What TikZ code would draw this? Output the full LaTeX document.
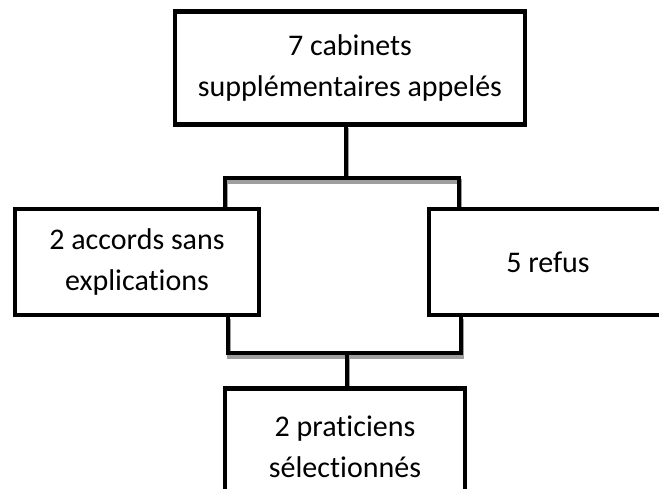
\documentclass[tikz,border=0pt]{standalone}
\usepackage{fontspec}
\setmainfont{Carlito}[Ligatures=NoCommon]
\usetikzlibrary{backgrounds}
\begin{document}
\begin{tikzpicture}[x=1pt,y=-1pt,
  box/.style={draw=black,line width=4.5pt,fill=white,rectangle,inner sep=0pt,
    align=center,font=\fontsize{30}{41}\selectfont},
  link/.style={draw=black,line width=4.5pt,line cap=rect},
  linkshade/.style={draw=black!38,line width=4.5pt,line cap=rect}
]
\useasboundingbox (0,0) rectangle (659,489);

% boxes
\node[box,minimum width=350pt,minimum height=113pt] (top) at (350,68)
  {7 cabinets\\supplémentaires appelés};
\node[box,minimum width=244pt,minimum height=106pt] (left) at (137,262)
  {2 accords sans\\explications};
\node[box,minimum width=238pt,minimum height=106pt] (right) at (548,262)
  {5 refus};
\node[box,minimum width=240pt,minimum height=117pt] (bottom) at (345,447)
  {2 praticiens\\sélectionnés};

% junction points of the bracket connectors
\coordinate (split) at (346,178);
\coordinate (splitL) at (225,178);
\coordinate (splitR) at (459,178);
\coordinate (joinL) at (228,353);
\coordinate (joinR) at (461,353);
\coordinate (join) at (347,353);

\begin{pgfonlayer}{background}
  % soft shadow under the connectors
  \begin{scope}[transform canvas={xshift=1pt,yshift=-3.5pt}]
    \draw[linkshade] (top.south -| split) -- (split);
    \draw[linkshade] (left.north -| splitL) -- (splitL) -- (splitR) -- (right.north -| splitR);
    \draw[linkshade] (left.south -| joinL) -- (joinL) -- (joinR) -- (right.south -| joinR);
    \draw[linkshade] (join) -- (bottom.north -| join);
  \end{scope}
  % connectors
  \draw[link] (top.south -| split) -- (split);
  \draw[link] (left.north -| splitL) -- (splitL) -- (splitR) -- (right.north -| splitR);
  \draw[link] (left.south -| joinL) -- (joinL) -- (joinR) -- (right.south -| joinR);
  \draw[link] (join) -- (bottom.north -| join);
\end{pgfonlayer}
\end{tikzpicture}
\end{document}
